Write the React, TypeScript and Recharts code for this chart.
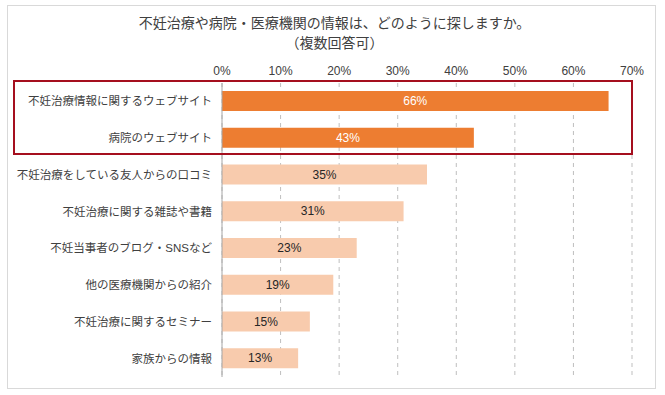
import { Bar, BarChart, CartesianGrid, Cell, XAxis, YAxis } from "recharts";

const categories = [
  "不妊治療情報に関するウェブサイト",
  "病院のウェブサイト",
  "不妊治療をしている友人からの口コミ",
  "不妊治療に関する雑誌や書籍",
  "不妊当事者のブログ・SNSなど",
  "他の医療機関からの紹介",
  "不妊治療に関するセミナー",
  "家族からの情報",
];
const values = [66, 43, 35, 31, 23, 19, 15, 13];
const xTicks = [0, 10, 20, 30, 40, 50, 60, 70];
const highlightCount = 2;

const data = categories.map((name, i) => ({ name, value: values[i] }));

const FONT = '"Liberation Sans", "Noto Sans CJK JP", sans-serif';
const DARK = "#ED7D31";
const LIGHT = "#F8CBAD";

function renderLabel(props: any) {
  const { x, y, width, height, value, index } = props;
  return (
    <text
      x={x + width / 2}
      y={y + height / 2}
      textAnchor="middle"
      dominantBaseline="central"
      fontSize={12}
      fontFamily={FONT}
      fill={index < highlightCount ? "#ffffff" : "#262626"}
    >
      {`${value}%`}
    </text>
  );
}

export default function App() {
  return (
    <div
      style={{
        position: "absolute",
        left: 0,
        top: 0,
        width: 665,
        height: 395,
        background: "#fff",
        fontFamily: FONT,
      }}
    >
      <div
        style={{
          position: "absolute",
          left: 7,
          top: 5,
          width: 649,
          height: 384,
          border: "1px solid #d9d9d9",
          boxSizing: "border-box",
        }}
      />
      <div
        style={{
          position: "absolute",
          left: 0,
          top: 13,
          width: 665,
          textAlign: "center",
          fontSize: 14,
          lineHeight: "20px",
          color: "#404040",
          paddingLeft: 2,
        }}
      >
        <div>不妊治療や病院・医療機関の情報は、どのように探しますか。</div>
        <div>（複数回答可）</div>
      </div>
      <BarChart
        width={665}
        height={395}
        data={data}
        layout="vertical"
        margin={{ top: 53, right: 33, bottom: 18, left: 0 }}
        style={{ position: "absolute", left: 0, top: 0 }}
      >
        <CartesianGrid horizontal={false} stroke="#bfbfbf" strokeDasharray="4 4" />
        <XAxis
          type="number"
          orientation="top"
          domain={[0, 70]}
          ticks={xTicks}
          tickFormatter={(v) => `${v}%`}
          axisLine={false}
          tickLine={false}
          tickSize={0}
          tickMargin={8}
          height={30}
          tick={{ fontSize: 12, fill: "#404040", fontFamily: FONT }}
        />
        <YAxis
          type="category"
          dataKey="name"
          width={222}
          axisLine={{ stroke: "#a6a6a6" }}
          tickLine={false}
          tickSize={0}
          tickMargin={10}
          interval={0}
          tick={{ fontSize: 11.5, fill: "#404040", fontFamily: FONT }}
        />
        <Bar dataKey="value" barSize={20} isAnimationActive={false} label={renderLabel}>
          {data.map((d, i) => (
            <Cell key={d.name} fill={i < highlightCount ? DARK : LIGHT} />
          ))}
        </Bar>
      </BarChart>
      <div
        style={{
          position: "absolute",
          left: 13,
          top: 80,
          width: 620,
          height: 75,
          border: "2.5px solid #a50f1e",
          boxSizing: "border-box",
        }}
      />
    </div>
  );
}
